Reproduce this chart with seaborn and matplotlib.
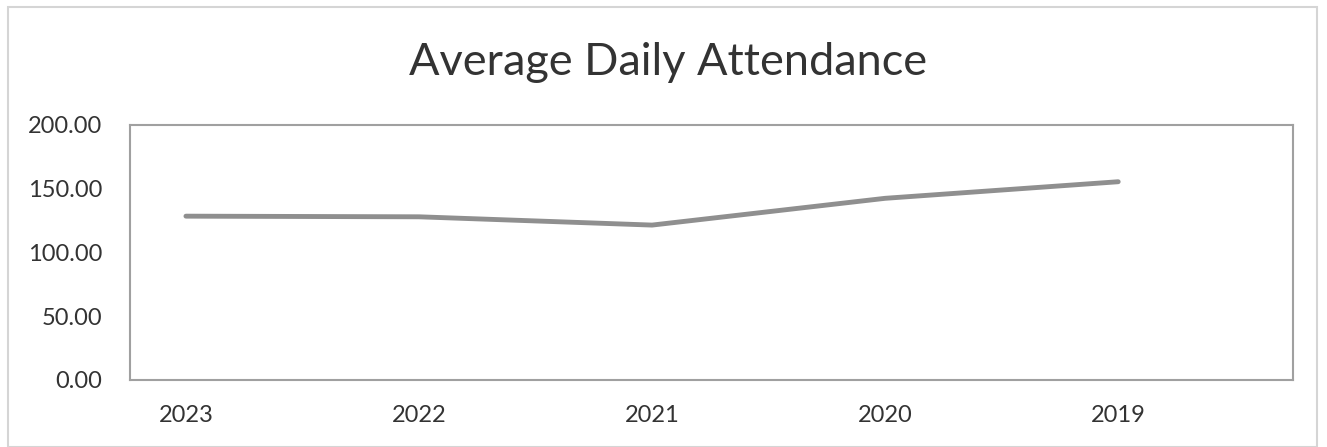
import matplotlib
matplotlib.use("Agg")
import matplotlib.pyplot as plt
import seaborn as sns
import pandas as pd
from matplotlib.patches import Rectangle

years = ["2023", "2022", "2021", "2020", "2019"]
attendance = [128.5, 128.0, 121.5, 142.5, 155.5]
yticks = [0, 50, 100, 150, 200]

sns.set_theme(style="white")
plt.rcParams['font.family'] = ['Lato', 'DejaVu Sans']

df = pd.DataFrame({"year": years, "ada": attendance})

fig = plt.figure(figsize=(13.27, 4.47), dpi=100)
ax = fig.add_axes([130/1327, 1-380/447, (1293-130)/1327, (380-125)/447])

sns.lineplot(data=df, x="year", y="ada", ax=ax, color="#8f8f8f", linewidth=3.5, sort=False)

ax.set_xlim(-0.24, 4.75)
ax.set_ylim(0, 200)
ax.set_yticks(yticks)
ax.set_yticklabels([f"{v:.2f}" for v in yticks])
ax.set_xlabel("")
ax.set_ylabel("")
ax.tick_params(axis="both", length=0, labelsize=17, colors="#333333")
ax.tick_params(axis="y", pad=20)
ax.tick_params(axis="x", pad=18)
for s in ax.spines.values():
    s.set_visible(True)
    s.set_color("#a0a0a0")
    s.set_linewidth(1.5)

fig.text(668/1327, 1-75/447, "Average Daily Attendance", ha="center", va="baseline",
         fontsize=32.5, color="#333333")

fig.patches.append(Rectangle((8/1327, 0.0), (1317-8)/1327, 1-7/447, transform=fig.transFigure,
                             fill=False, edgecolor="#d5d5d5", linewidth=1.5))

fig.savefig("out.png", dpi=100)
